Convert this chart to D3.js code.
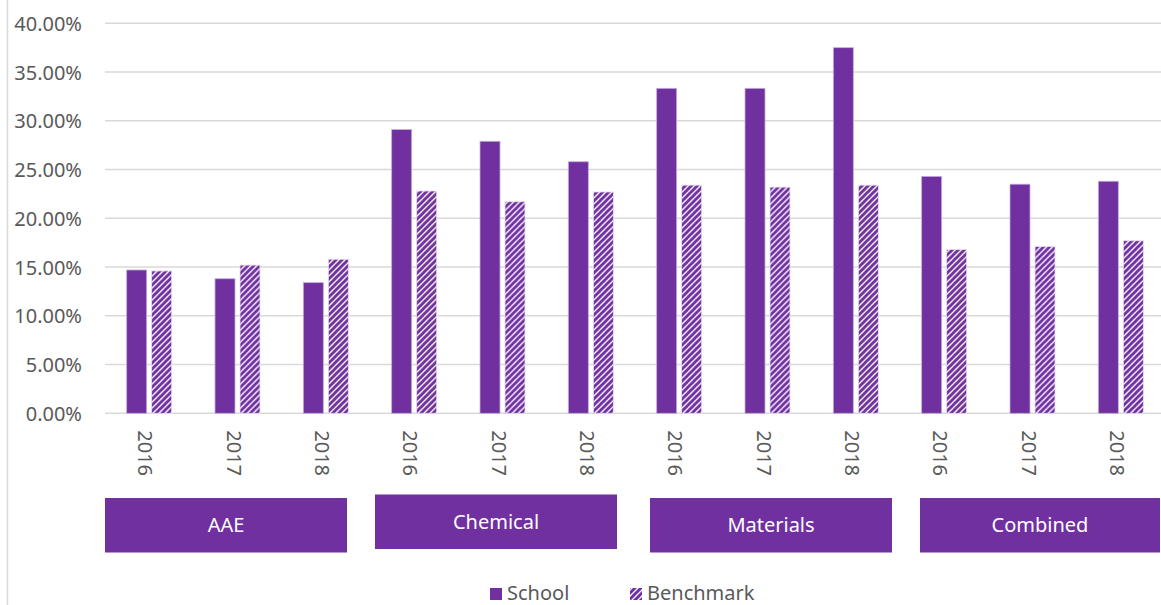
<!DOCTYPE html>
<html>
<head>
<meta charset="utf-8">
<script src="https://cdn.jsdelivr.net/npm/d3@7"></script>
<style>
  html, body { margin: 0; padding: 0; background: #fff; }
  svg { display: block; font-family: "Noto Sans", "Open Sans", sans-serif; }
</style>
</head>
<body>
<svg id="chart" width="1161" height="605"></svg>
<script>
// Department groups and the years shown within each
const departments = ["AAE", "Chemical", "Materials", "Combined"];
const years = ["2016", "2017", "2018"];

// Rate per department-year, in percent (order: dept × year)
const schoolValues    = [14.7, 13.8, 13.4, 29.1, 27.9, 25.8, 33.33, 33.33, 37.5, 24.3, 23.5, 23.8];
const benchmarkValues = [14.6, 15.2, 15.8, 22.8, 21.7, 22.7, 23.4, 23.2, 23.4, 16.8, 17.1, 17.7];

const seriesNames = ["School", "Benchmark"];
const yTicks = [0, 5, 10, 15, 20, 25, 30, 35, 40];

const purple = "#7030A0";
const textGray = "#595959";
const gridGray = "#d9d9d9";

const rows = [];
departments.forEach((d, i) => years.forEach((y, j) => {
  const k = i * years.length + j;
  rows.push({ key: d + "-" + y, dept: d, year: y, school: schoolValues[k], benchmark: benchmarkValues[k] });
}));

const svg = d3.select("#chart");

const margin = { left: 105, right: 1165, top: 23.3, bottom: 413.3 };

const x = d3.scaleBand().domain(rows.map(r => r.key)).range([margin.left, margin.right]).paddingInner(0).paddingOuter(0);
const y = d3.scaleLinear().domain([0, 40]).range([margin.bottom, margin.top]);

// Wide upward-diagonal hatch for the benchmark series
const defs = svg.append("defs");
const pat = defs.append("pattern")
  .attr("id", "hatch")
  .attr("patternUnits", "userSpaceOnUse")
  .attr("width", 6).attr("height", 6);
pat.append("rect").attr("width", 6).attr("height", 6).attr("fill", "#fff");
pat.append("path")
  .attr("d", "M-1.5,1.5 L1.5,-1.5 M0,6 L6,0 M4.5,7.5 L7.5,4.5")
  .attr("stroke", purple).attr("stroke-width", 3);

// Outer frame edge on the left
svg.append("line").attr("x1", 7.5).attr("x2", 7.5).attr("y1", 0).attr("y2", 605)
  .attr("stroke", gridGray).attr("stroke-width", 1.5);

// Horizontal gridlines
svg.append("g").selectAll("line").data(yTicks).join("line")
  .attr("x1", margin.left).attr("x2", 1161)
  .attr("y1", d => y(d)).attr("y2", d => y(d))
  .attr("stroke", gridGray).attr("stroke-width", 1.5);

// Y axis tick labels
const yAxis = d3.axisLeft(y).tickValues(yTicks).tickSize(0).tickPadding(0)
  .tickFormat(d => d3.format(".2f")(d) + "%");
const gy = svg.append("g").attr("transform", "translate(82,0)").call(yAxis);
gy.select(".domain").remove();
gy.selectAll("text").attr("fill", textGray).style("font-size", "20px")
  .style("font-family", "'Noto Sans', sans-serif").attr("dy", "0.35em");

// Bars
const barW = 20, gap = 5;
const groups = svg.append("g").selectAll("g").data(rows).join("g")
  .attr("transform", d => `translate(${x(d.key) + x.bandwidth() / 2},0)`);

groups.append("rect")
  .attr("x", -barW - gap / 2).attr("width", barW)
  .attr("y", d => y(d.school)).attr("height", d => y(0) - y(d.school))
  .attr("fill", purple).attr("stroke", "#c4aed8").attr("stroke-width", 0.8);

groups.append("rect")
  .attr("x", gap / 2).attr("width", barW)
  .attr("y", d => y(d.benchmark)).attr("height", d => y(0) - y(d.benchmark))
  .attr("fill", "url(#hatch)").attr("stroke", "#e6dcef").attr("stroke-width", 0.8);

// Year labels, rotated to read top-down
const xAxis = d3.axisBottom(x).tickSize(0).tickFormat(k => k.split("-")[1]);
const gx = svg.append("g").attr("transform", `translate(0,${margin.bottom})`).call(xAxis);
gx.select(".domain").remove();
gx.selectAll(".tick text")
  .attr("fill", textGray).style("font-size", "20px")
  .style("font-family", "'Noto Sans', sans-serif")
  .attr("text-anchor", "start")
  .attr("transform", "translate(-4,17) rotate(90)")
  .attr("x", 0).attr("y", 0).attr("dy", "0.35em");

// Department boxes under the year labels
const boxes = [
  { name: "AAE", x0: 105, x1: 347, top: 498 },
  { name: "Chemical", x0: 375, x1: 617, top: 494.5 },
  { name: "Materials", x0: 650, x1: 892, top: 498 },
  { name: "Combined", x0: 920, x1: 1160, top: 498 }
];
const bg = svg.append("g").selectAll("g").data(boxes).join("g");
bg.append("rect")
  .attr("x", d => d.x0).attr("y", d => d.top)
  .attr("width", d => d.x1 - d.x0).attr("height", 54.5)
  .attr("fill", purple);
bg.append("text")
  .attr("x", d => (d.x0 + d.x1) / 2).attr("y", d => d.top + 27)
  .attr("text-anchor", "middle").attr("dy", "0.35em")
  .attr("fill", "#fff").style("font-size", "20px")
  .text(d => d.name);

// Legend
const legend = svg.append("g").attr("transform", "translate(0,593)");
const items = legend.selectAll("g").data(seriesNames).join("g")
  .attr("transform", (d, i) => `translate(${i === 0 ? 490 : 630},0)`);
items.append("rect").attr("x", 0).attr("y", -5).attr("width", 12).attr("height", 12)
  .attr("fill", (d, i) => i === 0 ? purple : "url(#hatch)");
items.append("text").attr("x", 17).attr("y", 0).attr("dy", "0.35em")
  .attr("fill", textGray).style("font-size", "20px").text(d => d);
</script>
</body>
</html>
